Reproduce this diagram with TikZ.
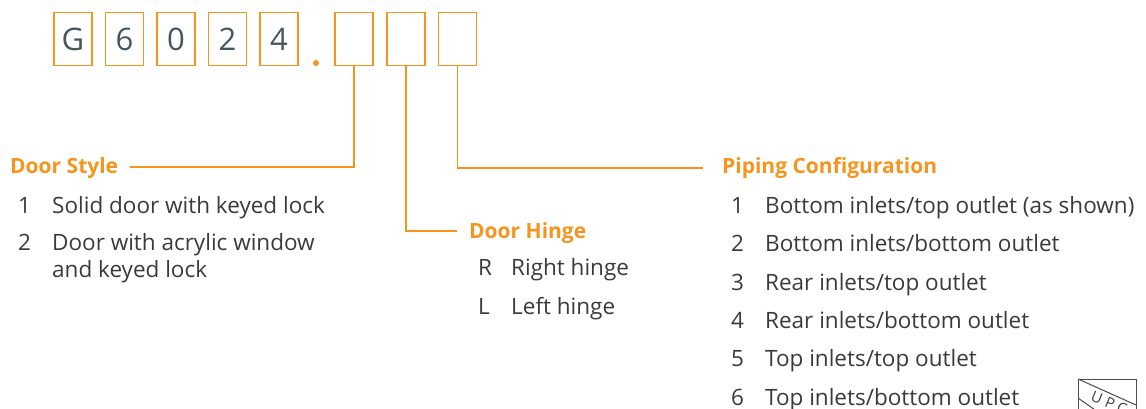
\documentclass[tikz,border=0pt]{standalone}
\usepackage{fontspec}
\setmainfont{Open Sans}
\definecolor{orng}{HTML}{F7941E}
\definecolor{slate}{HTML}{46555F}
\definecolor{bodytxt}{HTML}{3A3A3C}
\tikzset{
  digitbox/.style={draw=orng,line width=1.5pt,minimum width=38pt,minimum height=53pt,inner sep=0pt,text=slate,font=\fontsize{31}{32}\selectfont},
  conn/.style={draw=orng,line width=1.3pt},
  head/.style={anchor=base west,inner sep=0pt,text=orng,font=\fontsize{21}{26}\selectfont\bfseries},
  body/.style={anchor=base west,inner sep=0pt,text=bodytxt,font=\fontsize{22.5}{26}\selectfont},
  logo/.style={draw=black!70,line width=1pt},
  logotxt/.style={inner sep=0pt,text=black!75,rotate=-22,font=\fontsize{15}{16}\selectfont}
}
\begin{document}
\begin{tikzpicture}[x=1pt,y=-1pt]
\useasboundingbox (0,0) rectangle (1146,409);
\clip (0,0) rectangle (1146,409);
\node[digitbox] (b1) at (73,39) {G};
\node[digitbox] (b2) at (124.5,39) {6};
\node[digitbox] (b3) at (176,39) {0};
\node[digitbox] (b4) at (227.5,39) {2};
\node[digitbox] (b5) at (279,39) {4};
\node[digitbox] (b6) at (354,39) {};
\node[digitbox] (b7) at (406,39) {};
\node[digitbox] (b8) at (457.5,39) {};
\fill[orng] (316,63) circle (3pt);
\node[head] (ds) at (10,174) {Door Style};
\node[head] (dh) at (469,238) {Door Hinge};
\node[head] (pc) at (722,174) {Piping Configuration};
\coordinate (dsend) at (130,167);
\coordinate (dhend) at (457,231);
\coordinate (pcend) at (703,168);
\draw[conn] (b6.south) |- (dsend);
\draw[conn] (b7.south) |- (dhend);
\draw[conn] (b8.south) |- (pcend);
\node[body] (a1n) at (18,213) {1};
\node[body] (a1) at (52,213) {Solid door with keyed lock};
\node[body] (a2n) at (18,250) {2};
\node[body] (a2) at (52,250) {Door with acrylic window};
\node[body] (a2b) at (52,277) {and keyed lock};
\node[body] (hrn) at (478,275) {R};
\node[body] (hr) at (511,275) {Right hinge};
\node[body] (hln) at (478,314) {L};
\node[body] (hl) at (511,314) {Left hinge};
\node[body] (p1n) at (731,213) {1};
\node[body] (p1) at (765,213) {Bottom inlets/top outlet (as shown)};
\node[body] (p2n) at (731,251) {2};
\node[body] (p2) at (765,251) {Bottom inlets/bottom outlet};
\node[body] (p3n) at (731,290) {3};
\node[body] (p3) at (765,290) {Rear inlets/top outlet};
\node[body] (p4n) at (731,328) {4};
\node[body] (p4) at (765,328) {Rear inlets/bottom outlet};
\node[body] (p5n) at (731,366) {5};
\node[body] (p5) at (765,366) {Top inlets/top outlet};
\node[body] (p6n) at (731,405) {6};
\node[body] (p6) at (765,405) {Top inlets/bottom outlet};
\draw[logo] (1078,412) -- (1078,379) -- (1136,379) -- (1136,412);
\draw[logo] (1078,379) -- (1136,405);
\draw[logo] (1078,398) -- (1098,412);
\node[logotxt] (lu) at (1097,398) {U};
\node[logotxt] (lp) at (1110,403) {P};
\node[logotxt] (lc) at (1122,408) {C};
\end{tikzpicture}
\end{document}
